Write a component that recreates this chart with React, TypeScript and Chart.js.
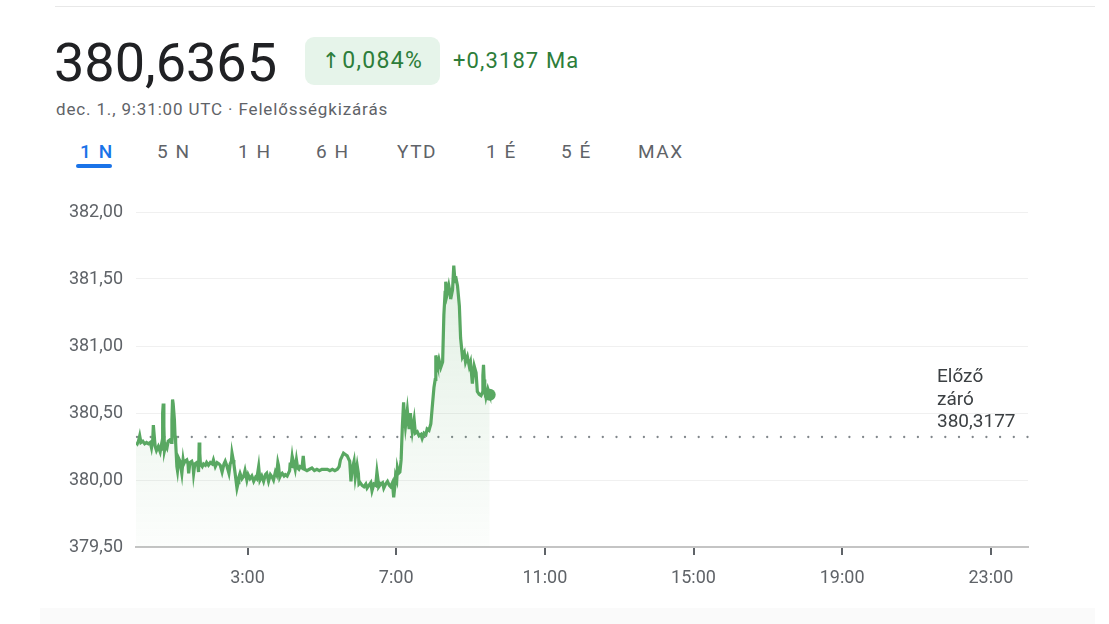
import React, { useEffect, useRef } from "react";
import { Chart, registerables } from "chart.js";

Chart.register(...registerables);

// Minutes since 0:00 UTC
const MINUTES = [
  0, 2, 4, 6, 8, 11, 14, 17, 20, 23, 25, 27, 28, 30, 31, 33, 36, 39, 41, 42, 43, 44, 45, 46, 48, 50, 52, 55, 57, 58, 59, 60, 62, 63, 64, 66, 67, 69,
  71, 74, 76, 77, 79, 82, 84, 85, 87, 90, 92, 93, 95, 98, 100, 101, 102, 103, 104, 107, 109, 112, 114, 117, 120, 123, 125, 128, 131, 134, 136, 139, 142, 144, 147, 150, 152, 154, 155, 157, 158, 160, 163, 165, 166, 168, 171, 174, 176, 179, 181, 184,
  187, 190, 193, 195, 198, 200, 203, 206, 209, 211, 214, 217, 220, 222, 225, 227, 229, 230, 232, 234, 236, 239, 241, 244, 246, 248, 249, 250, 252, 254, 255, 257, 259, 261, 263, 265, 268, 270, 272, 276, 280, 284, 288, 292, 296, 300, 304, 309, 313, 317, 321, 325, 328, 330, 333, 335, 338, 341, 343, 345, 347, 349, 352, 354, 357, 359, 360, 362, 365, 368, 371, 373, 376, 379, 381, 384, 387, 389, 391, 392, 395, 398, 400, 403, 406, 409, 411, 414, 416, 418, 419, 421, 422, 424, 426, 428, 430, 432,
  433, 435, 437, 438, 440, 441, 443, 444, 446, 448, 449, 451, 454, 457, 460, 462, 465, 468, 470, 473, 476, 478, 481, 483, 484, 486, 487, 489, 492, 495, 497, 499, 500, 502, 503, 505, 507, 508, 511, 513, 515, 516, 519, 522, 524, 527, 530, 532, 535, 538, 540, 543, 546, 549, 551, 554, 557, 559, 560, 561, 562, 563, 565, 568, 570, 571,
];

const PRICES = [
  380.28, 380.27, 380.29, 380.33, 380.28, 380.29, 380.27, 380.28, 380.27, 380.28, 380.24, 380.3, 380.41, 380.3, 380.25, 380.22, 380.25, 380.21, 380.26, 380.23, 380.5, 380.57, 380.4, 380.22, 380.26, 380.24, 380.29, 380.3, 380.28, 380.45, 380.6, 380.57, 380.45, 380.33, 380.28, 380.1, 380.07, 380.16,
  380.14, 380.05, 380.15, 380.12, 380.14, 380.15, 380.12, 380.05, 380.13, 380.14, 380.11, 380.05, 380.12, 380.13, 380.1, 380.06, 380.28, 380.2, 380.12, 380.1, 380.12, 380.11, 380.13, 380.11, 380.13, 380.12, 380.15, 380.1, 380.13, 380.12, 380.11, 380.06, 380.12, 380.14, 380.1, 380.05, 380.12, 380.14, 380.2, 380.15, 380.12, 380.05, 379.94, 379.98, 380.02, 380.05, 380.01, 380.03, 380.07, 380.0, 380.04, 380.01,
  380.03, 379.99, 380.02, 380.01, 380.1, 380.0, 380.03, 379.99, 380.04, 380.05, 379.99, 380.04, 380.02, 380.0, 380.06, 380.04, 380.13, 380.11, 380.02, 380.04, 380.05, 380.03, 380.04, 380.03, 380.05, 380.07, 380.13, 380.09, 380.17, 380.1, 380.12, 380.08, 380.15, 380.09, 380.08, 380.1, 380.09, 380.18, 380.08, 380.07, 380.08, 380.09, 380.07, 380.08, 380.07, 380.08, 380.08, 380.08, 380.07, 380.08, 380.07, 380.08, 380.1, 380.15, 380.18, 380.2, 380.19, 380.18, 380.16, 380.14, 379.99, 380.08, 380.14, 380.02, 380.11, 380.05, 379.97, 379.98, 379.96, 379.95, 379.97, 379.94, 379.96, 379.98, 379.92, 379.97, 379.96, 380.06, 379.99, 379.95, 379.97, 379.98, 379.94, 379.97, 379.99, 379.96, 379.95, 379.98, 379.87, 379.96, 380.03, 380.0, 380.09, 380.05, 380.06, 380.15, 380.4, 380.58,
  380.5, 380.4, 380.48, 380.52, 380.42, 380.38, 380.5, 380.44, 380.36, 380.42, 380.45, 380.35, 380.36, 380.33, 380.34, 380.31, 380.35, 380.34, 380.38, 380.37, 380.42, 380.53, 380.69, 380.75, 380.93, 380.88, 380.86, 380.9, 380.84, 380.88, 381.23, 381.4, 381.48, 381.38, 381.4, 381.45, 381.4, 381.35, 381.42, 381.6, 381.48, 381.52, 381.45, 381.3, 381.06, 380.92, 380.95, 380.88, 380.92, 380.85, 380.88, 380.72, 380.85, 380.8, 380.66, 380.64, 380.63, 380.65, 380.78, 380.86, 380.75, 380.68, 380.62, 380.68, 380.65, 380.6365,
];

const PREVIOUS_CLOSE = 380.3177;
const PREVIOUS_CLOSE_LINES = ["Előző", "záró", "380,3177"];

const X_TICKS = [180, 420, 660, 900, 1140, 1380];
const X_TICK_LABELS = ["3:00", "7:00", "11:00", "15:00", "19:00", "23:00"];
const Y_TICKS = [379.5, 380, 380.5, 381, 381.5, 382];
const Y_TICK_LABELS = ["379,50", "380,00", "380,50", "381,00", "381,50", "382,00"];

const TABS = ["1 N", "5 N", "1 H", "6 H", "YTD", "1 É", "5 É", "MAX"];
const TAB_X = [80, 157, 238, 316, 397, 486, 561, 638];

const GREEN = "#59a862";

const prevClosePlugin = {
  id: "prevClose",
  beforeDatasetsDraw(chart: any) {
    const { ctx, chartArea, scales } = chart;
    const y = Math.round(scales.y.getPixelForValue(PREVIOUS_CLOSE));
    ctx.save();
    ctx.fillStyle = "#80868b";
    for (let x = chartArea.left + 1; x <= chartArea.right; x += 13.7) {
      ctx.beginPath();
      ctx.arc(x, y, 1.15, 0, Math.PI * 2);
      ctx.fill();
    }
    ctx.restore();
  },
  afterDraw(chart: any) {
    const { ctx, scales } = chart;
    const y = scales.y.getPixelForValue(PREVIOUS_CLOSE);
    ctx.save();
    ctx.font = "19px Roboto";
    ctx.fillStyle = "#3c4043";
    ctx.textAlign = "left";
    ctx.textBaseline = "alphabetic";
    const n = PREVIOUS_CLOSE_LINES.length;
    PREVIOUS_CLOSE_LINES.forEach((line, i) => {
      ctx.fillText(line, 937, y - 10 - (n - 1 - i) * 22.5);
    });
    ctx.restore();
  },
};

export default function App() {
  const ref = useRef<HTMLCanvasElement | null>(null);

  useEffect(() => {
    const canvas = ref.current;
    if (!canvas) return;
    const data = MINUTES.map((m, i) => ({ x: m, y: PRICES[i] }));
    const last = data.length - 1;
    const chart = new Chart(canvas, {
      type: "line",
      data: {
        datasets: [
          {
            data,
            borderColor: GREEN,
            borderWidth: 3.2,
            tension: 0,
            fill: "start",
            backgroundColor: (c: any) => {
              const area = c.chart.chartArea;
              if (!area) return "rgba(89,168,98,0.1)";
              const g = c.chart.ctx.createLinearGradient(0, area.top, 0, area.bottom);
              g.addColorStop(0, "rgba(89,168,98,0.2)");
              g.addColorStop(1, "rgba(89,168,98,0.02)");
              return g;
            },
            pointRadius: (c: any) => (c.dataIndex === last ? 6 : 0),
            pointBackgroundColor: GREEN,
            pointBorderColor: GREEN,
            pointBorderWidth: 0,
            pointHoverRadius: 0,
          },
        ],
      },
      options: {
        animation: false,
        responsive: false,
        devicePixelRatio: 1,
        layout: { padding: { top: 32, right: 81, left: 0, bottom: 0 } },
        plugins: { legend: { display: false }, tooltip: { enabled: false } },
        scales: {
          x: {
            type: "linear",
            min: 0,
            max: 1440,
            afterBuildTicks: (axis: any) => {
              axis.ticks = X_TICKS.map((v) => ({ value: v }));
            },
            afterFit: (axis: any) => {
              axis.height = 53;
            },
            ticks: {
              autoSkip: false,
              maxRotation: 0,
              padding: 13,
              color: "#5f6368",
              font: { family: "Roboto", size: 18 },
              callback: (v: any) => X_TICK_LABELS[X_TICKS.indexOf(Number(v))] ?? "",
            },
            grid: {
              drawOnChartArea: false,
              drawTicks: true,
              tickLength: 8,
              color: "#5f6368",
              lineWidth: 2,
            },
            border: { display: true, color: "#c4c4c4", width: 2 },
          },
          y: {
            min: 379.5,
            max: 382,
            afterBuildTicks: (axis: any) => {
              axis.ticks = Y_TICKS.map((v) => ({ value: v }));
            },
            afterFit: (axis: any) => {
              axis.width = 136;
            },
            ticks: {
              padding: 13,
              color: "#5f6368",
              font: { family: "Roboto", size: 18 },
              callback: (v: any) => Y_TICK_LABELS[Y_TICKS.indexOf(Number(v))] ?? "",
            },
            grid: { drawTicks: false, color: "#f0f0f0", lineWidth: 1 },
            border: { display: false },
          },
        },
      },
      plugins: [prevClosePlugin],
    } as any);
    return () => chart.destroy();
  }, []);

  return (
    <div
      style={{
        position: "absolute",
        left: 0,
        top: 0,
        width: 1109,
        height: 624,
        background: "#fff",
        fontFamily: "Roboto, sans-serif",
        overflow: "hidden",
      }}
    >
      <div style={{ position: "absolute", left: 55, top: 6, width: 1040, height: 1, background: "#e8e8e8" }} />
      <div style={{ position: "absolute", left: 54, top: 31, fontSize: 54, color: "#202124", lineHeight: "64px" }}>
        380,6365
      </div>
      <div
        style={{
          position: "absolute",
          left: 305,
          top: 37,
          width: 135,
          height: 48,
          borderRadius: 9,
          background: "#e6f4ea",
          color: "#2d7d3a",
          fontSize: 23,
          lineHeight: "48px",
          textAlign: "center",
          letterSpacing: 1.3,
        }}
      >
        <span style={{ fontFamily: "'DejaVu Sans', sans-serif", fontSize: 22, letterSpacing: 2 }}>↑</span>0,084%
      </div>
      <div style={{ position: "absolute", left: 453, top: 37, color: "#2d7d3a", fontSize: 22, lineHeight: "48px", letterSpacing: 1.1 }}>
        +0,3187 Ma
      </div>
      <div style={{ position: "absolute", left: 56, top: 98, color: "#5f6368", fontSize: 17, lineHeight: "22px", letterSpacing: 0.85 }}>
        dec. 1., 9:31:00 UTC · Felelősségkizárás
      </div>
      {TABS.map((t, i) => (
        <div
          key={t}
          style={{
            position: "absolute",
            left: TAB_X[i],
            top: 140,
            fontSize: 19,
            lineHeight: "24px",
            fontWeight: i === 0 ? 500 : 400,
            letterSpacing: 1.6,
            color: i === 0 ? "#1a73e8" : "#5f6368",
          }}
        >
          {t}
        </div>
      ))}
      <div style={{ position: "absolute", left: 76, top: 164, width: 36, height: 4, borderRadius: 2, background: "#1a73e8" }} />
      <canvas ref={ref} width={1109} height={420} style={{ position: "absolute", left: 0, top: 180, width: 1109, height: 420 }} />
      <div style={{ position: "absolute", left: 40, top: 608, width: 1055, height: 16, background: "#fafafa" }} />
    </div>
  );
}
